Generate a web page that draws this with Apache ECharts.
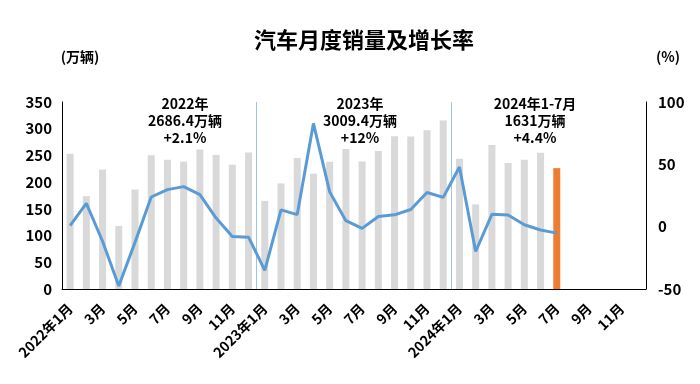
<!DOCTYPE html>
<html><head><meta charset="utf-8">
<script src="https://cdn.jsdelivr.net/npm/echarts@6/dist/echarts.min.js"></script>
<style>html,body{margin:0;padding:0;background:#fff}#c{width:700px;height:384px}</style>
</head><body><div id="c"></div>
<script>
const years = ['2022', '2023', '2024'];
const months = ['1月','2月','3月','4月','5月','6月','7月','8月','9月','10月','11月','12月'];
const sales2022 = [253.1, 173.7, 223.4, 118.1, 186.2, 250.2, 242.0, 238.3, 261.0, 250.6, 232.6, 255.6];
const sales2023 = [164.9, 197.6, 245.1, 215.9, 238.2, 262.2, 238.7, 258.2, 285.8, 285.3, 297.0, 315.6];
const sales2024 = [243.9, 158.4, 269.4, 235.9, 241.7, 255.2, 226.2];
const growth2022 = [0.9, 18.7, -11.7, -47.6, -12.6, 23.8, 29.7, 32.1, 25.7, 6.9, -7.9, -8.4];
const growth2023 = [-35.0, 13.5, 9.7, 82.8, 27.9, 4.8, -1.4, 8.2, 9.5, 13.8, 27.4, 23.5];
const growth2024 = [47.9, -19.9, 9.9, 9.3, 1.5, -2.7, -5.2];
const notes = [
  ['2022年', '2686.4万辆', '+2.1%'],
  ['2023年', '3009.4万辆', '+12%'],
  ['2024年1-7月', '1631万辆', '+4.4%']
];
const leftTicks = {min: 0, max: 350, interval: 50};
const rightTicks = {min: -50, max: 100, interval: 50};

const categories = [];
years.forEach(y => months.forEach((m, i) => categories.push(i === 0 ? y + '年' + m : m)));
const salesAll = sales2022.concat(sales2023, sales2024);
const growthAll = growth2022.concat(growth2023, growth2024);
const barData = categories.map((c, i) => {
  if (i >= salesAll.length) return null;
  const isLast = i === salesAll.length - 1;
  return {value: salesAll[i], itemStyle: {color: isLast ? '#ed7d31' : '#d9d9d9'}};
});
const lineData = categories.map((c, i) => i < growthAll.length ? growthAll[i] : null);

const FONT = '"Noto Sans CJK SC", "Noto Sans", sans-serif';
const chart = echarts.init(document.getElementById('c'), null, {renderer: 'canvas'});
const noteCenters = [180, 355, 530];
chart.setOption({
  animation: false,
  textStyle: {fontFamily: FONT},
  title: [{
    text: '汽车月度销量及增长率', left: 359, top: 24, textAlign: 'center',
    textStyle: {fontFamily: FONT, fontSize: 22, fontWeight: 'bold', color: '#000'}
  }].concat(notes.map((n, k) => ({
    text: n.join('\n'), left: noteCenters[k], top: 90, textAlign: 'center',
    textStyle: {fontFamily: FONT, fontSize: 14, fontWeight: 'bold', color: '#000', lineHeight: 17}
  }))),
  grid: {left: 62, right: 54, top: 102, bottom: 95},
  xAxis: {
    type: 'category', data: categories, boundaryGap: true,
    axisLine: {lineStyle: {color: '#000', width: 1}},
    axisTick: {show: false},
    axisLabel: {interval: 1, rotate: 45, margin: 17, color: '#000', fontWeight: 'bold', fontSize: 14, fontFamily: FONT},
    splitLine: {show: true, interval: (i) => i === 12 || i === 24, lineStyle: {color: '#9dc3e6', width: 1}}
  },
  yAxis: [{
    type: 'value', min: leftTicks.min, max: leftTicks.max, interval: leftTicks.interval,
    name: '(万辆)', nameGap: 38,
    nameTextStyle: {color: '#000', fontWeight: 'bold', fontSize: 14, fontFamily: FONT, padding: [0, 0, 0, 36]},
    axisLine: {show: true, lineStyle: {color: '#000'}},
    axisTick: {show: false}, splitLine: {show: false},
    axisLabel: {color: '#000', fontWeight: 'bold', fontSize: 15, fontFamily: FONT, margin: 10}
  }, {
    type: 'value', min: rightTicks.min, max: rightTicks.max, interval: rightTicks.interval,
    name: '(%)', nameGap: 38,
    nameTextStyle: {color: '#000', fontWeight: 'bold', fontSize: 14, fontFamily: FONT, padding: [0, 0, 0, 44]},
    axisLine: {show: true, lineStyle: {color: '#000'}},
    axisTick: {show: false}, splitLine: {show: false},
    axisLabel: {color: '#000', fontWeight: 'bold', fontSize: 15, fontFamily: FONT, margin: 12}
  }],
  series: [{
    type: 'bar', data: barData, barWidth: 7, yAxisIndex: 0
  }, {
    type: 'line', data: lineData, yAxisIndex: 1, symbol: 'none',
    lineStyle: {color: '#5b9bd5', width: 3}, connectNulls: false
  }]
});
</script></body></html>
